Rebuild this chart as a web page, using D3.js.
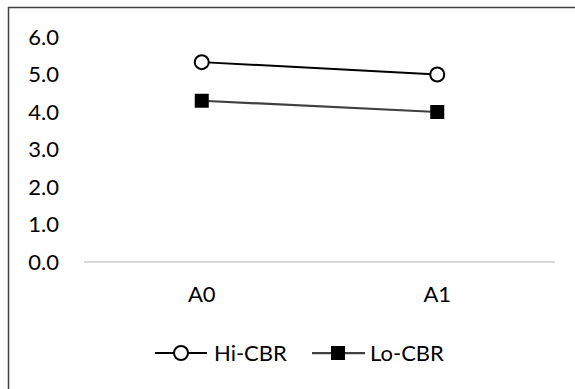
<!DOCTYPE html>
<html>
<head>
<meta charset="utf-8">
<script src="https://cdn.jsdelivr.net/npm/d3@7"></script>
<style>
  html, body { margin: 0; padding: 0; background: #fff; }
  svg { display: block; }
  text { font-family: Lato, "Open Sans", sans-serif; fill: #000; }
</style>
</head>
<body>
<svg id="chart" width="575" height="389"></svg>
<script>
// Categories along the x axis
const categories = ["A0", "A1"];
// Series values
const hiCBR = [5.33, 5.0];
const loCBR = [4.3, 4.0];
const seriesNames = ["Hi-CBR", "Lo-CBR"];
// Y axis ticks
const yTicks = [0, 1, 2, 3, 4, 5, 6];

const FONT = "Lato, 'Open Sans', sans-serif";
const FS = 22;

const svg = d3.select("#chart");
const W = 575, H = 389;

// Outer chart frame
svg.append("rect")
  .attr("x", 8.5).attr("y", 7.5)
  .attr("width", W + 10).attr("height", H + 10)
  .attr("fill", "#fff")
  .attr("stroke", "#404040").attr("stroke-width", 1.5);

const plot = { left: 84, right: 555, top: 37, bottom: 262 };

const x = d3.scaleBand().domain(categories).range([plot.left, plot.right]);
const y = d3.scaleLinear().domain([0, 6]).range([plot.bottom, plot.top]);

// Y axis labels (no axis line, no ticks)
const yAxis = d3.axisLeft(y).tickValues(yTicks).tickFormat(d3.format(".1f")).tickSize(0).tickPadding(0);
const gy = svg.append("g").attr("transform", `translate(59,0)`).call(yAxis);
gy.select(".domain").remove();
gy.selectAll("text").attr("font-size", FS).attr("font-family", FONT).attr("fill", "#000");

// Baseline at zero
svg.append("line")
  .attr("x1", plot.left).attr("x2", plot.right)
  .attr("y1", y(0)).attr("y2", y(0))
  .attr("stroke", "#d9d9d9").attr("stroke-width", 2);

// X axis category labels
const xAxis = d3.axisBottom(x).tickSize(0).tickPadding(0);
const gx = svg.append("g").attr("transform", `translate(0,${y(0) + 24})`).call(xAxis);
gx.select(".domain").remove();
gx.selectAll("text").attr("font-size", FS).attr("font-family", FONT).attr("fill", "#000");

const cx = d => x(d) + x.bandwidth() / 2;
const line = d3.line().x((d, i) => cx(categories[i])).y(d => y(d));

// Lo-CBR series
svg.append("path").datum(loCBR)
  .attr("d", line).attr("fill", "none")
  .attr("stroke", "#404040").attr("stroke-width", 2.25);
svg.selectAll("rect.lo").data(loCBR).join("rect")
  .attr("class", "lo")
  .attr("x", (d, i) => cx(categories[i]) - 7)
  .attr("y", d => y(d) - 7)
  .attr("width", 14).attr("height", 14)
  .attr("fill", "#000");

// Hi-CBR series
svg.append("path").datum(hiCBR)
  .attr("d", line).attr("fill", "none")
  .attr("stroke", "#000").attr("stroke-width", 2);
svg.selectAll("circle.hi").data(hiCBR).join("circle")
  .attr("class", "hi")
  .attr("cx", (d, i) => cx(categories[i]))
  .attr("cy", d => y(d))
  .attr("r", 7)
  .attr("fill", "#fff").attr("stroke", "#000").attr("stroke-width", 2);

// Legend
const legY = 353;
const leg1 = svg.append("g").attr("transform", "translate(155,0)");
leg1.append("line").attr("x1", 0).attr("x2", 52).attr("y1", legY).attr("y2", legY)
  .attr("stroke", "#000").attr("stroke-width", 2);
leg1.append("circle").attr("cx", 26).attr("cy", legY).attr("r", 7)
  .attr("fill", "#fff").attr("stroke", "#000").attr("stroke-width", 2);
leg1.append("text").attr("x", 59).attr("y", legY).attr("dy", "0.35em")
  .attr("font-size", FS).text(seriesNames[0]);

const leg2 = svg.append("g").attr("transform", "translate(312,0)");
leg2.append("line").attr("x1", 0).attr("x2", 53).attr("y1", legY).attr("y2", legY)
  .attr("stroke", "#404040").attr("stroke-width", 2.25);
leg2.append("rect").attr("x", 19).attr("y", legY - 7).attr("width", 14).attr("height", 14)
  .attr("fill", "#000");
leg2.append("text").attr("x", 58).attr("y", legY).attr("dy", "0.35em")
  .attr("font-size", FS).text(seriesNames[1]);
</script>
</body>
</html>
